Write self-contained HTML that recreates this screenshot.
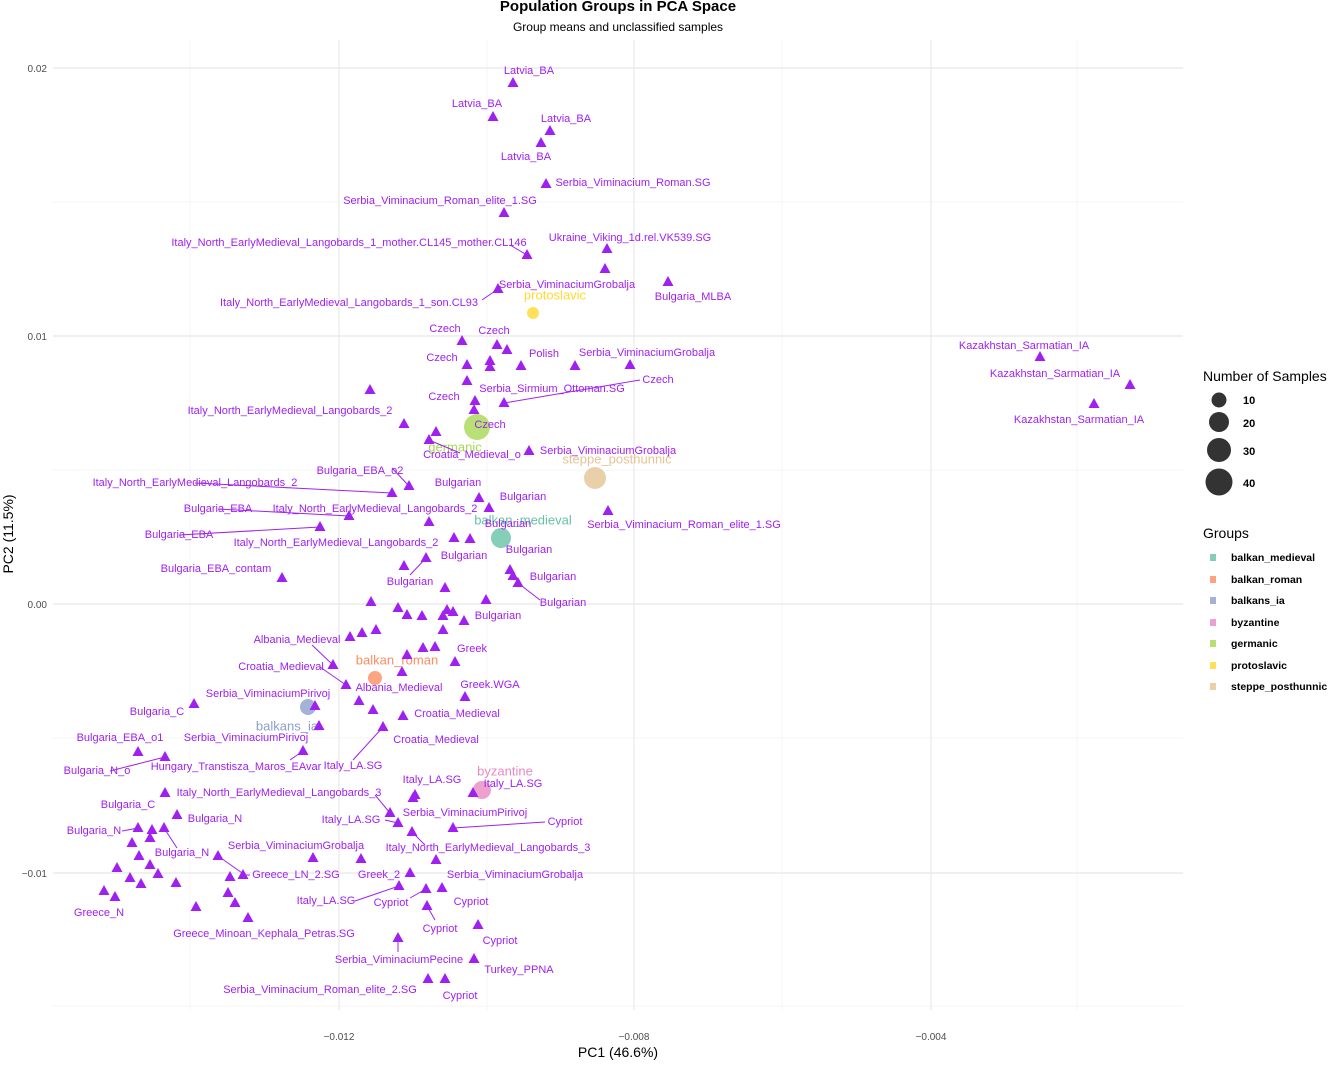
<!DOCTYPE html>
<html><head><meta charset="utf-8"><style>
body{margin:0;background:#fff;}
svg{display:block;font-family:"Liberation Sans",Arial,sans-serif;}
.l{font-size:11px;fill:#A020F0;text-anchor:middle;dominant-baseline:central;}
.g{font-size:13px;text-anchor:middle;dominant-baseline:central;}
.s{stroke:#A020F0;stroke-width:1;fill:none;}
</style></head><body>
<svg width="1336" height="1066" viewBox="0 0 1336 1066">
<defs><path id="t" d="M0,-6 L5.5,4 L-5.5,4Z" fill="#A020F0"/></defs>
<rect width="1336" height="1066" fill="#fff"/>
<!-- grid -->
<g stroke="#f3f3f3" stroke-width="0.8">
<line x1="190" y1="40" x2="190" y2="1010"/><line x1="487" y1="40" x2="487" y2="1010"/><line x1="782" y1="40" x2="782" y2="1010"/><line x1="1077" y1="40" x2="1077" y2="1010"/>
<line x1="53" y1="202" x2="1183" y2="202"/><line x1="53" y1="470" x2="1183" y2="470"/><line x1="53" y1="738" x2="1183" y2="738"/><line x1="53" y1="1006" x2="1183" y2="1006"/>
</g>
<g stroke="#e8e8e8" stroke-width="1.2">
<line x1="339" y1="40" x2="339" y2="1010"/><line x1="634" y1="40" x2="634" y2="1010"/><line x1="931" y1="40" x2="931" y2="1010"/>
<line x1="53" y1="68" x2="1183" y2="68"/><line x1="53" y1="336" x2="1183" y2="336"/><line x1="53" y1="604" x2="1183" y2="604"/><line x1="53" y1="873" x2="1183" y2="873"/>
</g>
<g font-size="10" fill="#4d4d4d">
<text x="47" y="72" text-anchor="end">0.02</text><text x="47" y="340" text-anchor="end">0.01</text><text x="47" y="608" text-anchor="end">0.00</text><text x="47" y="877" text-anchor="end">−0.01</text>
<text x="339" y="1040" text-anchor="middle">−0.012</text><text x="634" y="1040" text-anchor="middle">−0.008</text><text x="931" y="1040" text-anchor="middle">−0.004</text>
</g>
<text x="618" y="11" font-size="15" font-weight="bold" text-anchor="middle">Population Groups in PCA Space</text>
<text x="618" y="31" font-size="12" text-anchor="middle">Group means and unclassified samples</text>
<text x="618" y="1057" font-size="14" text-anchor="middle">PC1 (46.6%)</text>
<text transform="translate(13,534) rotate(-90)" font-size="14" text-anchor="middle">PC2 (11.5%)</text>

<!-- group circles -->
<circle cx="533" cy="313" r="6" fill="#FFD92F" opacity="0.8"/>
<circle cx="477" cy="427" r="13" fill="#A6D854" opacity="0.8"/>
<circle cx="595" cy="478" r="11" fill="#E5C494" opacity="0.8"/>
<circle cx="501" cy="538" r="10" fill="#66C2A5" opacity="0.8"/>
<circle cx="375" cy="678" r="7" fill="#FC8D62" opacity="0.8"/>
<circle cx="308" cy="707" r="8" fill="#8DA0CB" opacity="0.8"/>
<circle cx="482" cy="790" r="9" fill="#E78AC3" opacity="0.8"/>
<text class="g" x="555" y="295" fill="#FFD92F">protoslavic</text>
<text class="g" x="455" y="447" fill="#A6D854">germanic</text>
<text class="g" x="617" y="459" fill="#E5C494">steppe_posthunnic</text>
<text class="g" x="523" y="520" fill="#66C2A5">balkan_medieval</text>
<text class="g" x="397" y="660" fill="#FC8D62">balkan_roman</text>
<text class="g" x="287" y="726" fill="#8DA0CB">balkans_ia</text>
<text class="g" x="505" y="771" fill="#E78AC3">byzantine</text>

<!-- leader lines -->
<g class="s">
<path d="M392,493 L195,483"/><path d="M320,527 L179,535"/><path d="M349,516 L218,509"/><path d="M504,403 L640,380"/>
<path d="M165,757 L110,771"/><path d="M453,828 L545,822"/><path d="M399,886 L355,901"/><path d="M218,856 L245,875"/>
<path d="M383,727 L353,760"/><path d="M333,665 L312,645"/><path d="M346,685 L320,667"/><path d="M498,289 L482,300"/>
<path d="M527,255 L510,245"/><path d="M409,486 L392,468"/><path d="M429,440 L460,453"/><path d="M426,558 L410,575"/>
<path d="M518,583 L540,600"/><path d="M412,832 L425,845"/><path d="M390,813 L375,795"/><path d="M164,828 L177,848"/>
<path d="M398,938 L398,952"/><path d="M426,889 L410,898"/><path d="M427,906 L435,920"/><path d="M303,751 L290,760"/>
<path d="M138,828 L122,831"/><path d="M243,875 L250,875"/><path d="M398,823 L385,820"/>
</g>
<!-- points -->
<g>
<use href="#t" x="513" y="83"/><use href="#t" x="493" y="117"/><use href="#t" x="550" y="131"/><use href="#t" x="541" y="143"/><use href="#t" x="546" y="184"/><use href="#t" x="504" y="213"/><use href="#t" x="527" y="255"/><use href="#t" x="607" y="249"/><use href="#t" x="605" y="269"/><use href="#t" x="668" y="282"/><use href="#t" x="498" y="289"/>
<use href="#t" x="462" y="341"/><use href="#t" x="497" y="345"/><use href="#t" x="507" y="350"/><use href="#t" x="467" y="365"/><use href="#t" x="490" y="361"/><use href="#t" x="490" y="367"/><use href="#t" x="521" y="366"/><use href="#t" x="575" y="366"/><use href="#t" x="630" y="365"/><use href="#t" x="467" y="381"/><use href="#t" x="475" y="401"/><use href="#t" x="504" y="403"/><use href="#t" x="474" y="410"/><use href="#t" x="370" y="390"/><use href="#t" x="404" y="424"/><use href="#t" x="436" y="432"/><use href="#t" x="429" y="440"/><use href="#t" x="529" y="451"/>
<use href="#t" x="392" y="493"/><use href="#t" x="409" y="486"/><use href="#t" x="479" y="498"/><use href="#t" x="489" y="508"/><use href="#t" x="349" y="516"/><use href="#t" x="320" y="527"/><use href="#t" x="470" y="539"/><use href="#t" x="454" y="538"/><use href="#t" x="429" y="522"/><use href="#t" x="608" y="511"/><use href="#t" x="510" y="570"/><use href="#t" x="513" y="576"/><use href="#t" x="518" y="583"/><use href="#t" x="404" y="566"/><use href="#t" x="426" y="558"/><use href="#t" x="282" y="578"/><use href="#t" x="486" y="600"/>
<use href="#t" x="371" y="602"/><use href="#t" x="398" y="608"/><use href="#t" x="407" y="615"/><use href="#t" x="422" y="616"/><use href="#t" x="447" y="610"/><use href="#t" x="453" y="612"/><use href="#t" x="443" y="616"/><use href="#t" x="464" y="621"/><use href="#t" x="445" y="588"/>
<use href="#t" x="350" y="637"/><use href="#t" x="362" y="633"/><use href="#t" x="376" y="630"/><use href="#t" x="443" y="630"/><use href="#t" x="423" y="648"/><use href="#t" x="435" y="647"/><use href="#t" x="407" y="655"/><use href="#t" x="402" y="672"/><use href="#t" x="455" y="662"/><use href="#t" x="333" y="665"/><use href="#t" x="346" y="685"/><use href="#t" x="359" y="701"/><use href="#t" x="373" y="710"/><use href="#t" x="403" y="716"/><use href="#t" x="383" y="727"/><use href="#t" x="465" y="697"/><use href="#t" x="194" y="704"/><use href="#t" x="315" y="706"/><use href="#t" x="319" y="726"/><use href="#t" x="138" y="752"/><use href="#t" x="165" y="757"/><use href="#t" x="303" y="751"/>
<use href="#t" x="473" y="793"/><use href="#t" x="415" y="795"/><use href="#t" x="413" y="798"/><use href="#t" x="390" y="813"/><use href="#t" x="398" y="823"/><use href="#t" x="412" y="832"/><use href="#t" x="453" y="828"/><use href="#t" x="165" y="793"/><use href="#t" x="177" y="815"/><use href="#t" x="138" y="828"/><use href="#t" x="152" y="830"/><use href="#t" x="150" y="838"/><use href="#t" x="164" y="828"/><use href="#t" x="132" y="843"/><use href="#t" x="139" y="856"/><use href="#t" x="150" y="865"/><use href="#t" x="158" y="874"/><use href="#t" x="117" y="868"/><use href="#t" x="130" y="878"/><use href="#t" x="141" y="884"/><use href="#t" x="176" y="883"/><use href="#t" x="104" y="891"/><use href="#t" x="115" y="897"/><use href="#t" x="196" y="907"/><use href="#t" x="218" y="856"/><use href="#t" x="243" y="875"/><use href="#t" x="230" y="877"/><use href="#t" x="228" y="893"/><use href="#t" x="235" y="903"/><use href="#t" x="248" y="918"/><use href="#t" x="313" y="858"/><use href="#t" x="361" y="859"/><use href="#t" x="410" y="873"/><use href="#t" x="436" y="860"/><use href="#t" x="399" y="886"/><use href="#t" x="426" y="889"/><use href="#t" x="442" y="888"/><use href="#t" x="427" y="906"/><use href="#t" x="478" y="925"/><use href="#t" x="398" y="938"/><use href="#t" x="474" y="959"/><use href="#t" x="428" y="979"/><use href="#t" x="445" y="979"/>
<use href="#t" x="1040" y="357"/><use href="#t" x="1130" y="385"/><use href="#t" x="1094" y="404"/>
</g>
<!-- labels -->
<g class="l">
<text x="529" y="71">Latvia_BA</text><text x="477" y="104">Latvia_BA</text><text x="566" y="119">Latvia_BA</text><text x="526" y="157">Latvia_BA</text>
<text x="633" y="183">Serbia_Viminacium_Roman.SG</text><text x="440" y="201">Serbia_Viminacium_Roman_elite_1.SG</text>
<text x="349" y="243">Italy_North_EarlyMedieval_Langobards_1_mother.CL145_mother.CL146</text><text x="630" y="238">Ukraine_Viking_1d.rel.VK539.SG</text>
<text x="567" y="285">Serbia_ViminaciumGrobalja</text><text x="693" y="297">Bulgaria_MLBA</text><text x="349" y="303">Italy_North_EarlyMedieval_Langobards_1_son.CL93</text>
<text x="445" y="329">Czech</text><text x="494" y="331">Czech</text><text x="442" y="358">Czech</text><text x="544" y="354">Polish</text><text x="647" y="353">Serbia_ViminaciumGrobalja</text>
<text x="444" y="397">Czech</text><text x="552" y="389">Serbia_Sirmium_Ottoman.SG</text><text x="658" y="380">Czech</text><text x="290" y="411">Italy_North_EarlyMedieval_Langobards_2</text>
<text x="490" y="425">Czech</text><text x="472" y="455">Croatia_Medieval_o</text><text x="608" y="451">Serbia_ViminaciumGrobalja</text>
<text x="360" y="471">Bulgaria_EBA_o2</text><text x="195" y="483">Italy_North_EarlyMedieval_Langobards_2</text><text x="458" y="483">Bulgarian</text><text x="523" y="497">Bulgarian</text>
<text x="218" y="509">Bulgaria_EBA</text><text x="375" y="509">Italy_North_EarlyMedieval_Langobards_2</text><text x="179" y="535">Bulgaria_EBA</text>
<text x="508" y="524">Bulgarian</text><text x="684" y="525">Serbia_Viminacium_Roman_elite_1.SG</text><text x="336" y="543">Italy_North_EarlyMedieval_Langobards_2</text>
<text x="529" y="550">Bulgarian</text><text x="464" y="556">Bulgarian</text><text x="553" y="577">Bulgarian</text><text x="410" y="582">Bulgarian</text><text x="563" y="603">Bulgarian</text>
<text x="216" y="569">Bulgaria_EBA_contam</text><text x="498" y="616">Bulgarian</text>
<text x="297" y="640">Albania_Medieval</text><text x="472" y="649">Greek</text><text x="281" y="667">Croatia_Medieval</text><text x="399" y="688">Albania_Medieval</text><text x="490" y="685">Greek.WGA</text>
<text x="268" y="694">Serbia_ViminaciumPirivoj</text><text x="157" y="712">Bulgaria_C</text><text x="457" y="714">Croatia_Medieval</text>
<text x="120" y="738">Bulgaria_EBA_o1</text><text x="246" y="738">Serbia_ViminaciumPirivoj</text><text x="436" y="740">Croatia_Medieval</text>
<text x="97" y="771">Bulgaria_N_o</text><text x="236" y="767">Hungary_Transtisza_Maros_EAvar</text><text x="353" y="766">Italy_LA.SG</text>
<text x="432" y="780">Italy_LA.SG</text><text x="513" y="784">Italy_LA.SG</text><text x="279" y="793">Italy_North_EarlyMedieval_Langobards_3</text>
<text x="128" y="805">Bulgaria_C</text><text x="465" y="813">Serbia_ViminaciumPirivoj</text><text x="215" y="819">Bulgaria_N</text><text x="351" y="820">Italy_LA.SG</text><text x="565" y="822">Cypriot</text>
<text x="94" y="831">Bulgaria_N</text><text x="296" y="846">Serbia_ViminaciumGrobalja</text><text x="488" y="848">Italy_North_EarlyMedieval_Langobards_3</text><text x="182" y="853">Bulgaria_N</text>
<text x="296" y="875">Greece_LN_2.SG</text><text x="379" y="875">Greek_2</text><text x="515" y="875">Serbia_ViminaciumGrobalja</text>
<text x="326" y="901">Italy_LA.SG</text><text x="391" y="903">Cypriot</text><text x="471" y="902">Cypriot</text><text x="99" y="913">Greece_N</text>
<text x="440" y="929">Cypriot</text><text x="264" y="934">Greece_Minoan_Kephala_Petras.SG</text><text x="500" y="941">Cypriot</text>
<text x="399" y="960">Serbia_ViminaciumPecine</text><text x="519" y="970">Turkey_PPNA</text><text x="320" y="990">Serbia_Viminacium_Roman_elite_2.SG</text><text x="460" y="996">Cypriot</text>
<text x="1024" y="346">Kazakhstan_Sarmatian_IA</text><text x="1055" y="374">Kazakhstan_Sarmatian_IA</text><text x="1079" y="420">Kazakhstan_Sarmatian_IA</text>
</g>
<!-- legend -->
<text x="1203" y="381" font-size="14">Number of Samples</text>
<g fill="#333"><circle cx="1219" cy="400" r="7.5"/><circle cx="1219" cy="422" r="10"/><circle cx="1219" cy="450" r="12"/><circle cx="1219" cy="482" r="13.5"/></g>
<g font-size="11" font-weight="bold"><text x="1243" y="404">10</text><text x="1243" y="427">20</text><text x="1243" y="455">30</text><text x="1243" y="487">40</text></g>
<text x="1203" y="538" font-size="14">Groups</text>
<g opacity="0.8"><rect x="1210" y="554" width="6" height="7" fill="#66C2A5"/><rect x="1210" y="576" width="6" height="7" fill="#FC8D62"/><rect x="1210" y="597" width="6" height="7" fill="#8DA0CB"/><rect x="1210" y="619" width="6" height="7" fill="#E78AC3"/><rect x="1210" y="640" width="6" height="7" fill="#A6D854"/><rect x="1210" y="662" width="6" height="7" fill="#FFD92F"/><rect x="1210" y="683" width="6" height="7" fill="#E5C494"/></g>
<g font-size="10.5" font-weight="bold"><text x="1231" y="561">balkan_medieval</text><text x="1231" y="583">balkan_roman</text><text x="1231" y="604">balkans_ia</text><text x="1231" y="626">byzantine</text><text x="1231" y="647">germanic</text><text x="1231" y="669">protoslavic</text><text x="1231" y="690">steppe_posthunnic</text></g>
</svg>
</body></html>
